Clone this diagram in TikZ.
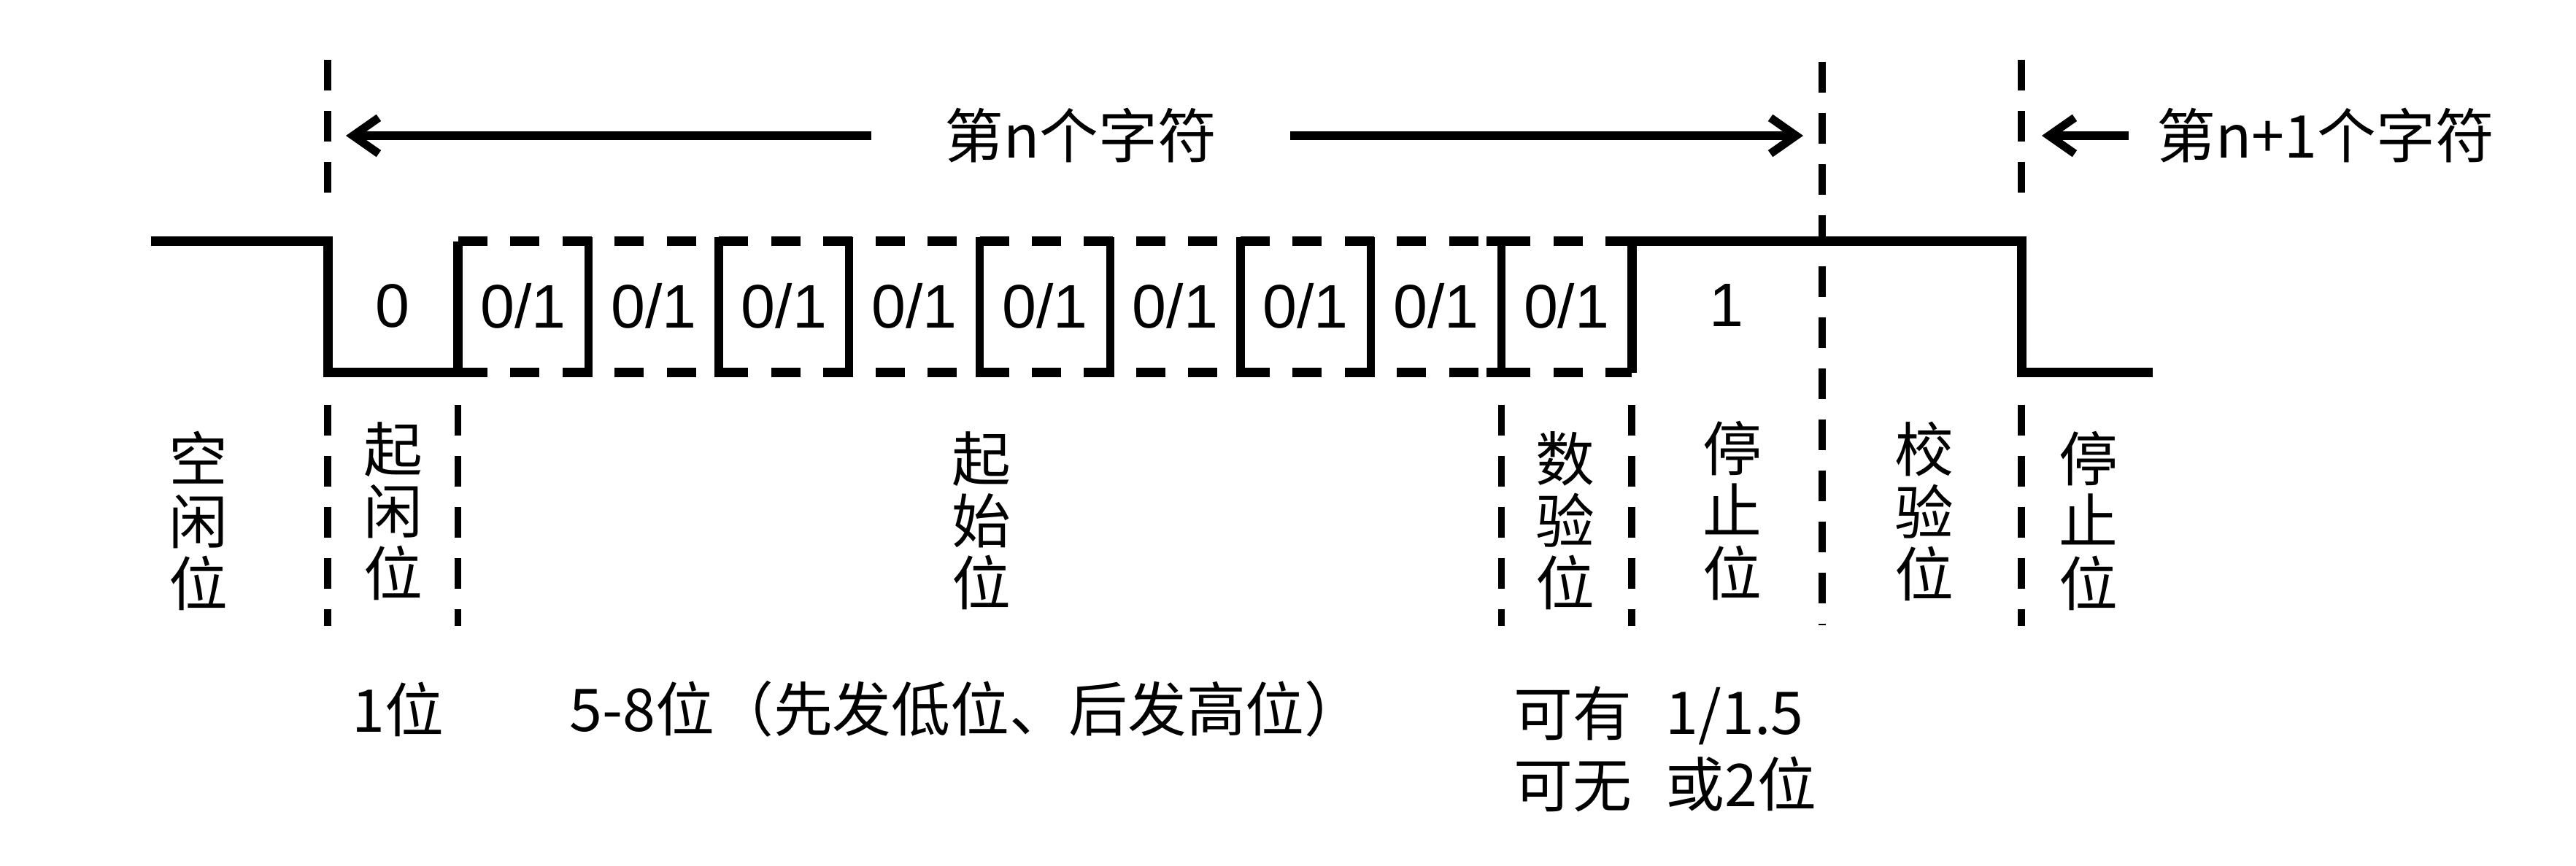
\documentclass[tikz,border=0pt]{standalone}
\usepackage{fontspec}
\setmainfont{Liberation Sans}
\newfontfamily\cjk{Noto Sans CJK SC}
\usetikzlibrary{arrows.meta, positioning, calc}

\begin{document}
\begin{tikzpicture}[
  sig/.style={line width=3.7pt},
  bitline/.style={line width=3.7pt, dash pattern=on 4mm off 3.148mm},
  wall/.style={line width=3.2pt, line cap=rect},
  guide/.style={line width=2.6pt, dash pattern=on 4.2mm off 2.8mm},
  arr/.style={line width=3.2pt, -{Straight Barb[length=10pt,width=14pt,line width=3.2pt]}},
  bitlbl/.style={font=\fontsize{24}{24}\selectfont},
  vlbl/.style={font=\cjk\fontsize{23}{24.2}\selectfont, align=center},
  txt/.style={font=\cjk\fontsize{23}{28}\selectfont, align=left, anchor=west, inner sep=0pt}
]
  \useasboundingbox (0,0) rectangle (35.3,11.87);

  \draw[sig] (2.07,8.56) -| (4.49,6.76) -| (6.277,8.56);
  \draw[bitline] (6.277,8.56) -- (22.36,8.56);
  \draw[bitline] (6.277,6.76) -- (22.36,6.76);
  \draw[sig] (22.36,6.76) |- (27.70,8.56) |- (29.50,6.76);
  \foreach \i [evaluate=\i as \x using 4.49+\i*1.787] in {2,...,9}
    \draw[wall] (\x,6.76) -- (\x,8.56);
  \draw[sig] (20.37,8.56) -- (20.573,8.56);
  \draw[sig] (20.37,6.76) -- (20.573,6.76);

  \node[bitlbl] (b0) at (5.38,7.68) {0};
  \foreach \i [evaluate=\i as \x using 4.49+\i*1.787+0.8935] in {1,...,9}
    \node[bitlbl] (b\i) at (\x,7.68) {0/1};
  \node[bitlbl] (b10) at (23.66,7.68) {1};

  \draw[guide] (4.49,11.05) -- (4.49,9.21);
  \draw[guide] (27.70,11.05) -- (27.70,9.21);
  \draw[guide] (24.97,11.02) -- (24.97,3.30);
  \foreach \x in {4.49,6.277,20.573,22.36,27.70}
    \draw[guide] (\x,6.32) -- (\x,3.29);

  \coordinate (lt) at (4.74,10.01);
  \coordinate (rt) at (24.71,10.01);
  \coordinate (nt) at (27.98,10.01);
  \node[font=\cjk\fontsize{23}{23}\selectfont, inner xsep=1.0cm] (chn) at (14.81,10.01) {第n个字符};
  \node[font=\cjk\fontsize{23}{23}\selectfont, inner xsep=0.38cm, anchor=west] (chnn) at (29.17,10.01) {第n+1个字符};
  \draw[arr] (chn) -- (lt);
  \draw[arr] (chn) -- (rt);
  \draw[arr] (chnn) -- (nt);

  \node[vlbl] (idle) at (2.72,4.73) {空\\闲\\位};
  \node[vlbl] (start) at (5.39,4.86) {起\\闲\\位};
  \node[vlbl] (data) at (13.45,4.73) {起\\始\\位};
  \node[vlbl] (par) at (21.45,4.73) {数\\验\\位};
  \node[vlbl] (stp) at (23.74,4.87) {停\\止\\位};
  \node[vlbl] (chk) at (26.37,4.86) {校\\验\\位};
  \node[vlbl] (stpn) at (28.62,4.73) {停\\止\\位};

  \node[txt] (w1) at (4.82,2.15) {1位};
  \node[txt] (w2) at (7.80,2.15) {5-8位（先发低位、后发高位）};
  \node[txt] (w3) at (20.74,1.60) {可有\\可无};
  \node[txt] (w4) at (22.82,1.60) {1/1.5\\或2位};
\end{tikzpicture}
\end{document}
